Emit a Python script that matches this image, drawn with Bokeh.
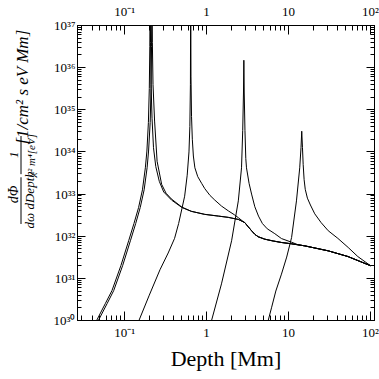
import math
from bokeh.plotting import figure
from bokeh.layouts import row
from bokeh.models import LogAxis, FixedTicker, CustomJSTickFormatter, Range1d
from bokeh.core.properties import value
from bokeh.embed import file_html
from bokeh.resources import INLINE

# ---------------- data ----------------
x_limits = [0.0266, 112]
y_limits = [1e30, 1e37]
x_major_ticks = [0.1, 1, 10, 100]
x_tick_labels = ["10\u207b\u00b9", "1", "10", "10\u00b2"]
y_major_ticks = [1e30, 1e31, 1e32, 1e33, 1e34, 1e35, 1e36, 1e37]
y_tick_labels = ["10\u00b3\u2070", "10\u00b3\u00b9", "10\u00b3\u00b2", "10\u00b3\u00b3",
                 "10\u00b3\u2074", "10\u00b3\u2075", "10\u00b3\u2076", "10\u00b3\u2077"]
x_title = "Depth [Mm]"
y_title_parts = ["d\u03a6", "d\u03c9 dDepth", "1", "\u03c7\u00b2 m\u2074[eV]", "[1/cm\u00b2 s eV Mm]"]

# common high-depth tail shared by the curves once they have merged
tail_x = [0.65, 0.95, 1.4, 1.84, 2.44, 2.93, 3.2, 3.54, 3.9, 4.27, 5.14, 6.5, 8.2, 10.9, 15.8, 30.5, 53, 100]
tail_y = [3.9e32, 3.3e32, 3.0e32, 2.8e32, 2.5e32, 2.1e32, 1.7e32, 1.35e32, 1.1e32, 9.7e31,
          8.5e31, 7.7e31, 7.1e31, 6.6e31, 5.9e31, 4.5e31, 3.3e31, 2.0e31]

# curve A (resonance ~0.205 Mm)
a_x = [0.040, 0.0455, 0.058, 0.070, 0.090, 0.112, 0.130, 0.148, 0.165, 0.179, 0.187, 0.195,
       0.200, 0.203, 0.205, 0.207, 0.210, 0.216, 0.225, 0.240, 0.265, 0.30, 0.374, 0.50]
a_y = [5.5e29, 1.0e30, 2.5e30, 5.1e30, 2.0e31, 7.8e31, 2.0e32, 4.8e32, 1.26e33, 4.2e33, 1.05e34, 5.0e34,
       3.2e35, 3.2e36, 1.0e38, 4.0e36, 4.0e35, 6.3e34, 1.26e34, 4.5e33, 2.0e33, 1.12e33, 7.2e32, 4.8e32]

# curve B (resonance ~0.216 Mm)
b_x = [0.042, 0.0478, 0.061, 0.0735, 0.0945, 0.1176, 0.1365, 0.155, 0.173, 0.188, 0.196, 0.205,
       0.210, 0.213, 0.216, 0.218, 0.222, 0.232, 0.249, 0.283, 0.32, 0.374, 0.50]
b_y = [5.5e29, 1.0e30, 2.5e30, 5.1e30, 2.0e31, 7.8e31, 2.0e32, 4.8e32, 1.26e33, 4.2e33, 1.05e34, 5.0e34,
       3.2e35, 3.2e36, 1.0e38, 4.0e36, 4.0e35, 5.4e34, 6.0e33, 1.7e33, 1.05e33, 7.6e32, 4.9e32]

# curve D (resonance ~0.64 Mm)
d_x = [0.135, 0.1495, 0.20, 0.27, 0.34, 0.407, 0.456, 0.50, 0.54, 0.58, 0.61, 0.625, 0.635, 0.640,
       0.645, 0.655, 0.67, 0.69, 0.72, 0.78, 0.87, 0.95, 1.1, 1.26, 1.52, 1.84, 2.2, 2.44, 2.7]
d_y = [5.6e29, 1.0e30, 4.0e30, 1.6e31, 4.0e31, 8.9e31, 2.0e32, 4.5e32, 8.9e32, 2.8e33, 1.0e34, 4.0e34,
       4.0e35, 1.0e38, 6.3e35, 7.0e34, 2.0e34, 8.0e33, 4.2e33, 2.6e33, 1.8e33, 1.35e33, 9.3e32, 7.2e32,
       5.2e32, 4.0e32, 3.2e32, 2.75e32, 2.35e32]

# curve E (resonance ~2.85 Mm)
e_x = [1.10, 1.15, 1.52, 2.02, 2.44, 2.67, 2.76, 2.82, 2.85, 2.88, 2.94, 3.01, 3.07, 3.3, 3.54,
       3.88, 4.3, 4.8, 5.5, 6.8, 8.2, 10.9, 13.0]
e_y = [5.6e29, 1.0e30, 7.4e30, 7.8e31, 6.9e32, 4.2e33, 3.2e34, 2.5e35, 1.5e36, 2.5e35, 3.2e34, 7.0e33,
       4.2e33, 1.8e33, 1.0e33, 5.0e32, 3.0e32, 2.0e32, 1.5e32, 1.15e32, 8.8e31, 7.2e31, 6.3e31]

# curve F (resonance ~14.5 Mm)
f_x = [5.3, 5.65, 6.2, 7.0, 8.2, 9.5, 10.9, 12.5, 13.7, 14.2, 14.5, 14.8, 15.1, 15.5, 16.0, 17.0,
       18.5, 20.9, 25.0, 30.5, 40.0, 53.5, 70.0, 100.0]
f_y = [5.6e29, 1.0e30, 2.0e30, 5.0e30, 1.26e31, 3.2e31, 9.3e31, 6.9e32, 4.2e33, 1.26e34, 3.1e34,
       1.26e34, 5.0e33, 2.2e33, 1.3e33, 8.0e32, 5.5e32, 3.4e32, 2.1e32, 1.35e32, 8.9e31, 5.4e31,
       3.3e31, 2.0e31]

# ---------------- main figure ----------------
SERIF = "Liberation Serif"
LABEL_W = 42
H = 379

p = figure(width=379 - LABEL_W, height=H, x_axis_type="log", y_axis_type="log",
           x_range=Range1d(*x_limits), y_range=Range1d(*y_limits),
           output_backend="svg", toolbar_location=None,
           min_border_left=77 - LABEL_W, min_border_right=5, min_border_top=24, min_border_bottom=59)
p.grid.visible = False
p.outline_line_color = "black"
p.background_fill_color = "white"
p.border_fill_color = "white"

def fmt(majors, labs):
    return CustomJSTickFormatter(args=dict(majs=majors, labs=labs), code="""
        let best = 0, bd = 1e9;
        for (let i = 0; i < majs.length; i++) {
            const d = Math.abs(Math.log10(tick) - Math.log10(majs[i]));
            if (d < bd) { bd = d; best = i; }
        }
        return labs[best];
    """)

def minors(majors):
    out = []
    for m in [majors[0] / 10] + list(majors):
        for k in range(2, 10):
            out.append(m * k)
    return out

def x_ticker():
    return FixedTicker(ticks=x_major_ticks, minor_ticks=minors(x_major_ticks))

def y_ticker():
    return FixedTicker(ticks=y_major_ticks, minor_ticks=minors(y_major_ticks))

def style_axis(ax, major_len, minor_len, standoff):
    ax.major_tick_in = major_len
    ax.major_tick_out = 0
    ax.minor_tick_in = minor_len
    ax.minor_tick_out = 0
    ax.axis_line_color = "black"
    ax.major_tick_line_color = "black"
    ax.minor_tick_line_color = "black"
    ax.major_label_text_font = SERIF
    ax.major_label_text_color = "black"
    ax.major_label_text_font_size = "13px"
    ax.major_label_standoff = standoff

# bottom
xb = p.xaxis[0]
xb.ticker = x_ticker()
xb.formatter = fmt(x_major_ticks, x_tick_labels)
style_axis(xb, 9, 5, 4)
xb.axis_label = x_title
xb.axis_label_text_font = SERIF
xb.axis_label_text_font_style = "normal"
xb.axis_label_text_font_size = "22px"
xb.axis_label_text_color = "black"
xb.axis_label_standoff = 3

# left
yl = p.yaxis[0]
yl.ticker = y_ticker()
yl.formatter = fmt(y_major_ticks, y_tick_labels)
style_axis(yl, 8, 4, 2)

# top
xt = LogAxis(ticker=x_ticker(), formatter=fmt(x_major_ticks, x_tick_labels))
style_axis(xt, 9, 5, 7)
p.add_layout(xt, "above")

# right (ticks only)
yr = LogAxis(ticker=y_ticker(), formatter=CustomJSTickFormatter(code="return '';"))
style_axis(yr, 8, 4, 0)
p.add_layout(yr, "right")

# curves
for xs, ys in [(a_x + tail_x, a_y + tail_y),
               (b_x + tail_x, b_y + tail_y),
               (d_x + tail_x[5:], d_y + tail_y[5:]),
               (e_x + tail_x[14:], e_y + tail_y[14:]),
               (f_x, f_y)]:
    p.line(xs, ys, line_color="black", line_width=1)

# ---------------- y-axis title column (pixel coordinates of the page) ----------------
lp = figure(width=LABEL_W, height=H, x_range=Range1d(0, LABEL_W), y_range=Range1d(H, 0),
            output_backend="svg", toolbar_location=None,
            x_axis_location=None, y_axis_location=None,
            min_border_left=0, min_border_right=0, min_border_top=0, min_border_bottom=0)
lp.grid.visible = False
lp.outline_line_color = None
lp.background_fill_color = "white"
lp.border_fill_color = "white"

def piece(text, px, py, size):
    lp.text(x=[px], y=[py], text=[text], angle=math.pi / 2, text_align="center",
            text_baseline="middle", text_font=value(SERIF), text_font_style="italic",
            text_font_size=value(size), text_color="black")

piece(y_title_parts[0], 13, 217, "14px")
piece(y_title_parts[1], 29, 224, "13px")
piece(y_title_parts[2], 13, 166, "13px")
piece(y_title_parts[3], 30, 167, "11px")
piece(y_title_parts[4], 22, 79, "17px")
lp.segment(x0=[20.5, 20.5], y0=[195, 142], x1=[20.5, 20.5], y1=[255, 191],
           line_color="black", line_width=1)

layout = row(lp, p, spacing=0)
open("out.html", "w").write(file_html(layout, INLINE))
